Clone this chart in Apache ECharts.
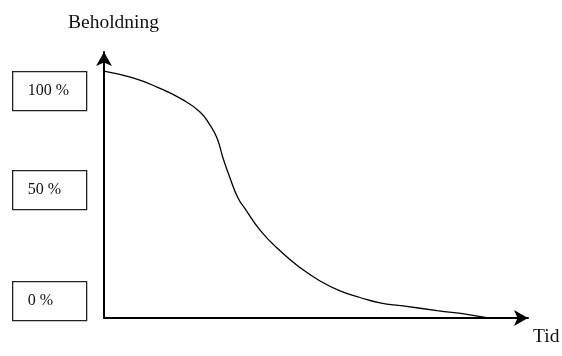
<!DOCTYPE html>
<html>
<head>
<meta charset="utf-8">
<script src="https://cdn.jsdelivr.net/npm/echarts@6/dist/echarts.min.js"></script>
<style>
  html, body { margin: 0; padding: 0; background: #fff; }
  #chart { width: 562px; height: 356px; }
</style>
</head>
<body>
<div id="chart"></div>
<script>
// tid (vilkårlige enheter) og beholdning i prosent
const timeValues = [0, 29, 53, 79, 96, 106, 113, 119, 126, 134, 141, 156, 176, 196, 216, 236, 256, 276, 299, 333, 366, 384];
const stockValues = [100, 97.2, 93.5, 88.3, 83.4, 78.1, 72.9, 64.8, 56.7, 48.6, 44.3, 35.6, 27.2, 20.4, 15.0, 11.0, 8.3, 6.1, 4.9, 3.0, 1.3, 0];
const levelLabels = ['100 %', '50 %', '0 %'];

const serif = '"Liberation Serif", "DejaVu Serif", serif';
const chart = echarts.init(document.getElementById('chart'));

// boksene til venstre for y-aksen
const boxTops = [71, 170, 281];
const boxes = levelLabels.map((txt, i) => ({
  type: 'group',
  left: 12,
  top: boxTops[i],
  children: [
    {
      type: 'rect',
      shape: { x: 0, y: 0, width: 74, height: 39 },
      style: { fill: '#fff', stroke: '#222', lineWidth: 1.3 }
    },
    {
      type: 'text',
      x: 15,
      y: 19.5,
      style: { text: txt, font: '16px ' + serif, fill: '#111', verticalAlign: 'middle' }
    }
  ]
}));

chart.setOption({
  animation: false,
  backgroundColor: '#fff',
  grid: { left: 104, right: 34, top: 52, bottom: 38 },
  xAxis: {
    type: 'value',
    min: 0,
    max: 424,
    axisLine: {
      show: true,
      lineStyle: { color: '#000', width: 2 },
      symbol: ['none', 'arrow'],
      symbolSize: [12, 14]
    },
    axisTick: { show: false },
    axisLabel: { show: false },
    splitLine: { show: false }
  },
  yAxis: {
    type: 'value',
    min: 0,
    max: 107.7,
    axisLine: {
      show: true,
      lineStyle: { color: '#000', width: 2 },
      symbol: ['none', 'arrow'],
      symbolSize: [12, 14]
    },
    axisTick: { show: false },
    axisLabel: { show: false },
    splitLine: { show: false }
  },
  series: [{
    type: 'line',
    data: timeValues.map((t, i) => [t, stockValues[i]]),
    smooth: 0.5,
    showSymbol: false,
    lineStyle: { color: '#000', width: 1.3 }
  }],
  graphic: [
    {
      type: 'text',
      left: 68,
      top: 13,
      style: { text: 'Beholdning', font: '19.5px ' + serif, fill: '#111' }
    },
    {
      type: 'text',
      left: 533,
      top: 327,
      style: { text: 'Tid', font: '19.5px ' + serif, fill: '#111' }
    }
  ].concat(boxes)
});
</script>
</body>
</html>
